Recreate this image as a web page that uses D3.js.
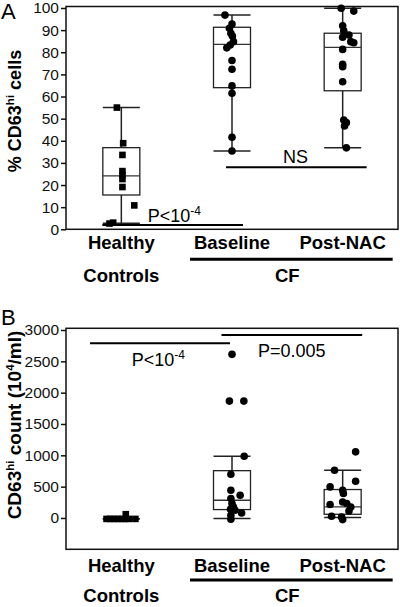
<!DOCTYPE html>
<html><head><meta charset="utf-8">
<script src="https://cdn.jsdelivr.net/npm/d3@7"></script>
<style>
html,body{margin:0;padding:0;background:#fff;}
svg{display:block;font-family:"Liberation Sans",Arial,Helvetica,sans-serif;}
</style></head>
<body>
<svg id="chart" width="400" height="607"></svg>
<script>
// ---------- DATA ----------
const categories = ["Healthy", "Baseline", "Post-NAC"];
const groupLabels = ["Controls", "CF"];

// Panel A: % CD63hi cells
const aHealthy  = [55, 38.9, 33.6, 26.3, 24.5, 22.7, 19.1, 10.8, 3, 2.6];
const aHealthyJ = [-0.12, 0.05, 0.03, 0.03, 0.03, 0.03, 0.03, 0.35, -0.22, -0.32];
const aBaseline  = [96.8, 92.8, 90.8, 88.6, 87.3, 84.8, 83.3, 82, 76.3, 72.3, 64.8, 61.5, 41.6, 35.4];
const aBaselineJ = [-0.19, 0, -0.07, -0.03, 0.01, 0.04, -0.05, -0.14, 0, 0, 0, 0, 0, 0];
const aPost  = [99.9, 98.6, 92, 89.7, 87.8, 86.8, 84.8, 84.3, 81.3, 74.6, 73.5, 66.7, 49.4, 48.2, 46.7, 36.8];
const aPostJ = [-0.04, 0.3, 0, 0.03, 0.17, 0, 0.22, 0.3, 0, 0, 0, 0, 0.03, 0.1, 0.05, 0.1];
// box stats: [min, q1, median, q3, max]
const aBoxHealthy  = [2.7, 15.5, 24.1, 36.9, 55];
const aBoxBaseline = [35.4, 64, 83.6, 91.3, 96.8];
const aBoxPost     = [36.8, 62.6, 82.2, 88.6, 99.9];
const aTicks = [0, 10, 20, 30, 40, 50, 60, 70, 80, 90, 100];

// Panel B: CD63hi count (10^4/ml)
const bHealthy  = [-15, -15, -15, -15, -15, -15, -15, 60, -15];
const bHealthyJ = [-0.4, -0.3, -0.2, -0.1, 0, 0.1, 0.2, 0.12, 0.38];
const bBaseline  = [2611, 1865, 1865, 986, 698, 443, 363, 310, 230, 176, 139, 123, 80, 43, -21];
const bBaselineJ = [0, -0.07, 0.32, 0.33, -0.03, -0.03, 0.22, -0.03, 0, 0.04, -0.04, 0.08, 0.26, -0.03, -0.03];
const bPost  = [1055, 762, 587, 496, 443, 390, 256, 230, 214, 176, 112, 27, 16, -26];
const bPostJ = [0.35, -0.22, 0.35, -0.34, 0, 0.02, 0, 0.11, -0.34, 0.22, 0.17, -0.3, -0.03, 0];
const bBoxHealthy  = [-12, -12, -12, -12, -12];
const bBoxBaseline = [-10, 134, 283, 755, 986];
const bBoxPost     = [6, 59, 176, 454, 762];
const bTicks = [0, 500, 1000, 1500, 2000, 2500, 3000];

// ---------- DRAW ----------
const svg = d3.select("#chart");
const left = 66, right = 398;
const x = d3.scalePoint().domain(categories).range([left, right]).padding(0.5);
const boxW = 37;
const FONT = "'Liberation Sans',Arial,Helvetica,sans-serif";

function drawPanel(o) {
  const g = svg.append("g");
  const y = d3.scaleLinear().domain(o.domain).range(o.range);
  // frame
  g.append("rect").attr("x", left).attr("y", o.frameTop)
    .attr("width", right - left).attr("height", o.range[0] - o.frameTop)
    .attr("fill", "none").attr("stroke", "#111").attr("stroke-width", 1.5);
  // y axis
  const ax = g.append("g").attr("transform", `translate(${left},0)`)
    .call(d3.axisLeft(y).tickValues(o.ticks).tickSize(5).tickPadding(2).tickFormat(d3.format("d")));
  ax.select(".domain").remove();
  ax.selectAll(".tick line").attr("stroke", "#111").attr("stroke-width", 1.5);
  ax.selectAll(".tick text").attr("font-size", 15.5).attr("fill", "#111").attr("font-family", FONT);

  // boxes
  o.boxes.forEach((b, i) => {
    const cx = x(categories[i]);
    const [mn, q1, md, q3, mx] = b;
    const st = "#222";
    g.append("line").attr("x1", cx).attr("x2", cx).attr("y1", y(mx)).attr("y2", y(q3)).attr("stroke", st).attr("stroke-width", 1.5);
    g.append("line").attr("x1", cx).attr("x2", cx).attr("y1", y(q1)).attr("y2", y(mn)).attr("stroke", st).attr("stroke-width", 1.5);
    g.append("line").attr("x1", cx - boxW/2).attr("x2", cx + boxW/2).attr("y1", y(mx)).attr("y2", y(mx)).attr("stroke", st).attr("stroke-width", 1.5);
    g.append("line").attr("x1", cx - boxW/2).attr("x2", cx + boxW/2).attr("y1", y(mn)).attr("y2", y(mn)).attr("stroke", st).attr("stroke-width", 1.5);
    if (q3 > q1) {
      g.append("rect").attr("x", cx - boxW/2).attr("y", y(q3)).attr("width", boxW).attr("height", y(q1) - y(q3))
        .attr("fill", "none").attr("stroke", st).attr("stroke-width", 1.3);
    }
    g.append("line").attr("x1", cx - boxW/2).attr("x2", cx + boxW/2).attr("y1", y(md)).attr("y2", y(md)).attr("stroke", "#333").attr("stroke-width", 1.3);
  });

  // points
  o.points.forEach((p, i) => {
    const cx = x(categories[i]);
    p.vals.forEach((v, k) => {
      const px = cx + p.jit[k] * boxW, py = y(v);
      if (p.shape === "square") {
        g.append("rect").attr("x", px - 3.3).attr("y", py - 3.3).attr("width", 6.6).attr("height", 6.6).attr("fill", "#000");
      } else {
        g.append("circle").attr("cx", px).attr("cy", py).attr("r", 3.8).attr("fill", "#000");
      }
    });
  });

  // annotations
  o.annots.forEach(a => {
    g.append("line").attr("x1", a.x1).attr("x2", a.x2).attr("y1", y(a.lineV)).attr("y2", y(a.lineV))
      .attr("stroke", "#000").attr("stroke-width", 2);
    const t = g.append("text").attr("x", a.tx).attr("y", y(a.textV)).attr("font-size", 18).attr("font-family", FONT).attr("fill", "#000");
    if (a.sup) {
      t.append("tspan").text(a.text);
      t.append("tspan").attr("font-size", 12).attr("dy", -7).text(a.sup);
    } else t.text(a.text);
  });

  // panel letter
  g.append("text").attr("x", 1).attr("y", o.letterY).attr("font-size", 22).attr("font-family", FONT).text(o.letter);

  // y title
  const yt = g.append("text").attr("transform", `translate(21,${o.titleY}) rotate(-90)`)
    .attr("text-anchor", "middle").attr("font-size", o.titleSize).attr("font-weight", "bold").attr("font-family", FONT);
  o.title.forEach(s => {
    const ts = yt.append("tspan").text(s.t);
    if (s.sup) ts.attr("font-size", 11.5).attr("dy", -7);
    if (s.down) ts.attr("dy", 7);
  });

  // x labels
  const base = o.range[0];
  categories.forEach(c => {
    g.append("text").attr("x", x(c)).attr("y", base + o.labOff).attr("text-anchor", "middle")
      .attr("font-size", 18.5).attr("font-weight", "bold").attr("font-family", FONT).text(c);
  });
  g.append("line").attr("x1", x(categories[1]) - 42).attr("x2", x(categories[2]) + 50)
    .attr("y1", base + o.cfLine).attr("y2", base + o.cfLine).attr("stroke", "#000").attr("stroke-width", 3);
  g.append("text").attr("x", x(categories[0])).attr("y", base + o.grpOff).attr("text-anchor", "middle")
    .attr("font-size", 18.5).attr("font-weight", "bold").attr("font-family", FONT).text(groupLabels[0]);
  g.append("text").attr("x", (x(categories[1]) + x(categories[2])) / 2).attr("y", base + o.grpOff).attr("text-anchor", "middle")
    .attr("font-size", 18.5).attr("font-weight", "bold").attr("font-family", FONT).text(groupLabels[1]);
}

drawPanel({
  domain: [0, 100], range: [229.3, 8], frameTop: 6.5, ticks: aTicks,
  boxes: [aBoxHealthy, aBoxBaseline, aBoxPost],
  points: [
    {vals: aHealthy, jit: aHealthyJ, shape: "square"},
    {vals: aBaseline, jit: aBaselineJ, shape: "circle"},
    {vals: aPost, jit: aPostJ, shape: "circle"}
  ],
  annots: [
    {x1: x("Healthy") - 19, x2: x("Baseline") + 11, lineV: 1.9, tx: 147.7, textV: 3.4, text: "P<10", sup: "-4"},
    {x1: x("Baseline") - 6, x2: x("Post-NAC") + 24, lineV: 28, tx: 283, textV: 30, text: "NS"}
  ],
  letter: "A", letterY: 19,
  title: [{t: "% CD63"}, {t: "hi", sup: true}, {t: " cells", down: true}], titleY: 111, titleSize: 18,
  labOff: 20, cfLine: 30, grpOff: 52.5
});

drawPanel({
  domain: [-500, 3000], range: [549.3, 330], frameTop: 328.3, ticks: bTicks,
  boxes: [bBoxHealthy, bBoxBaseline, bBoxPost],
  points: [
    {vals: bHealthy, jit: bHealthyJ, shape: "square"},
    {vals: bBaseline, jit: bBaselineJ, shape: "circle"},
    {vals: bPost, jit: bPostJ, shape: "circle"}
  ],
  annots: [
    {x1: 90, x2: x("Baseline") - 2, lineV: 2787, tx: 131.7, textV: 2430, text: "P<10", sup: "-4"},
    {x1: x("Baseline") - 10.5, x2: x("Post-NAC") + 19.5, lineV: 2920, tx: 258, textV: 2563, text: "P=0.005"}
  ],
  letter: "B", letterY: 325,
  title: [{t: "CD63"}, {t: "hi", sup: true}, {t: " count (10", down: true}, {t: "4", sup: true}, {t: "/ml)", down: true}], titleY: 425, titleSize: 19,
  labOff: 22.4, cfLine: 30.7, grpOff: 52.4
});
</script>
</body></html>
